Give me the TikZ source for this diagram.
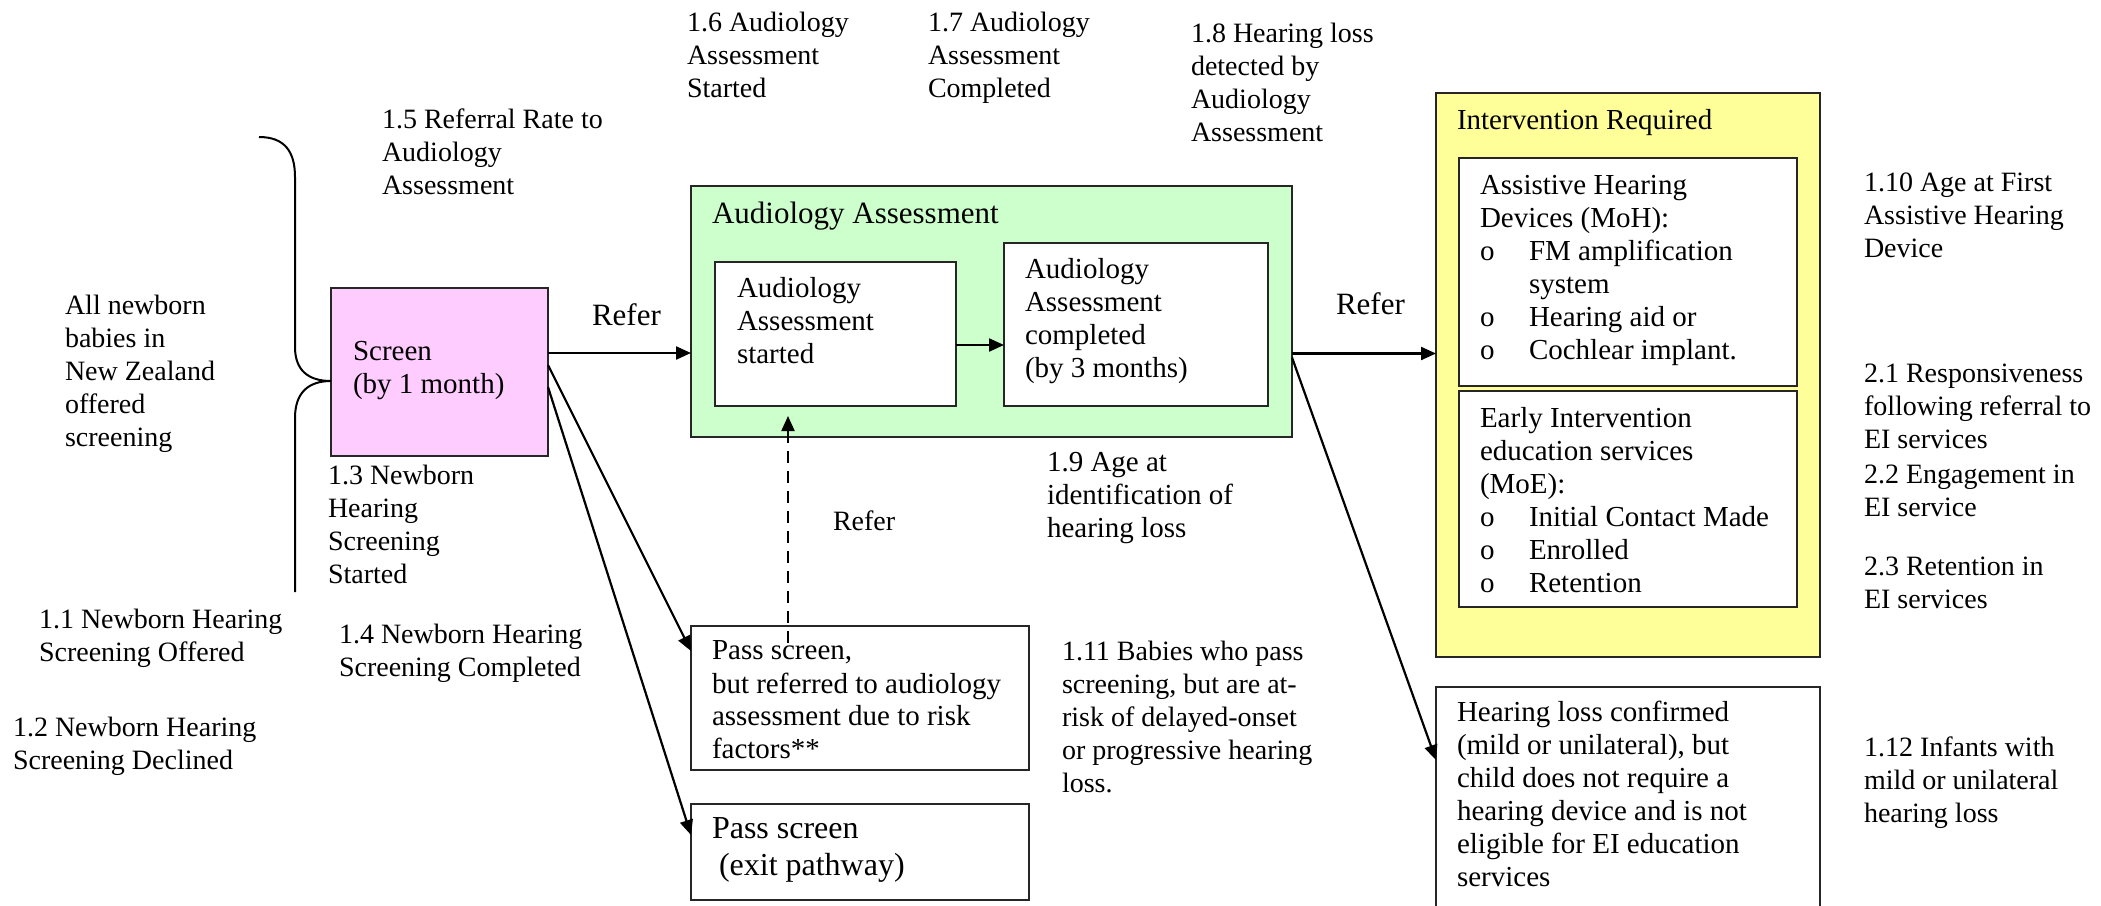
\documentclass[tikz,border=0pt]{standalone}
\usepackage{fontspec}
\setmainfont{Liberation Serif}
\usetikzlibrary{arrows.meta,calc}
\definecolor{pinkfill}{HTML}{FFCCFF}
\definecolor{greenfill}{HTML}{CCFFCC}
\definecolor{yellowfill}{HTML}{FFFF99}
\newcommand{\bul}{\makebox[49pt][l]{o}}
\begin{document}
\begin{tikzpicture}[x=1pt,y=-1pt,
  box/.style={draw=black!85, line width=2.2pt, inner sep=0pt, outer sep=0pt, anchor=north west},
  txt/.style={anchor=north west, inner sep=0pt, outer sep=0pt, align=left, font=\fontsize{28}{33}\selectfont},
  btxt/.style={txt, font=\fontsize{29}{33}\selectfont},
  bigtxt/.style={txt, font=\fontsize{31}{37}\selectfont},
  conn/.style={line width=2.2pt, -{Triangle[length=15pt,width=13pt]}},
  dashconn/.style={conn, dash pattern=on 12pt off 8pt}]
\useasboundingbox (0,0) rectangle (2101,905);

% boxes
\node[box, fill=pinkfill, minimum width=217pt, minimum height=168pt] (screen) at (331,288) {};
\node[box, fill=greenfill, minimum width=601pt, minimum height=251pt] (aud) at (691,186) {};
\node[box, fill=white, minimum width=241pt, minimum height=144pt] (started) at (715,262) {};
\node[box, fill=white, minimum width=264pt, minimum height=163pt] (completed) at (1004,243) {};
\node[box, fill=yellowfill, minimum width=384pt, minimum height=564pt] (interv) at (1436,93) {};
\node[box, fill=white, minimum width=338pt, minimum height=228pt] (ahd) at (1459,158) {};
\node[box, fill=white, minimum width=338pt, minimum height=216pt] (ei) at (1459,391) {};
\node[box, fill=white, minimum width=338pt, minimum height=144pt] (pass1) at (691,626) {};
\node[box, fill=white, minimum width=338pt, minimum height=96pt] (pass2) at (691,804) {};
\node[box, fill=white, minimum width=384pt, minimum height=240pt] (mild) at (1436,687) {};

% brace
\draw[line width=2pt] (259,137) .. controls (285,137) and (295,152) .. (295,177)
  -- (295,347) .. controls (295,370) and (308,381) .. (331,381)
  .. controls (308,381) and (295,393) .. (295,418) -- (295,592);

% texts
\node[txt] (tAll) at (65,295) {All newborn\\babies in\\New Zealand\\offered\\screening};
\node[btxt] (tScreen) at (353,341) {Screen\\(by 1 month)};
\node[txt] (t15) at (382,109) {1.5 Referral Rate to\\Audiology\\Assessment};
\node[bigtxt] (tRefer1) at (592,304) {Refer};
\node[txt] (t13) at (328,465) {1.3 Newborn\\Hearing\\Screening\\Started};
\node[txt] (t11) at (39,609) {1.1 Newborn Hearing\\Screening Offered};
\node[txt] (t14) at (339,624) {1.4 Newborn Hearing\\Screening Completed};
\node[txt] (t12) at (13,717) {1.2 Newborn Hearing\\Screening Declined};
\node[btxt] (tPass1) at (712,641) {Pass screen,\\but referred to audiology\\assessment due to risk\\factors**};
\node[bigtxt, font=\fontsize{32}{37}\selectfont] (tPass2) at (712,818) {Pass screen\\\hspace*{7pt}(exit pathway)};
\node[txt] (t111) at (1062,641) {1.11 Babies who pass\\screening, but are at-\\risk of delayed-onset\\or progressive hearing\\loss.};
\node[txt] (t16) at (687,12) {1.6 Audiology\\Assessment\\Started};
\node[txt] (t17) at (928,12) {1.7 Audiology\\Assessment\\Completed};
\node[txt] (t18) at (1191,23) {1.8 Hearing loss\\detected by\\Audiology\\Assessment};
\node[bigtxt] (tAud) at (712,202) {Audiology Assessment};
\node[btxt] (tStarted) at (737,277) {Audiology\\Assessment\\started};
\node[btxt] (tCompleted) at (1025,258) {Audiology\\Assessment\\completed\\(by 3 months)};
\node[txt] (tRefer2) at (833,511) {Refer};
\node[btxt] (t19) at (1047,452) {1.9 Age at\\identification of\\hearing loss};
\node[bigtxt] (tRefer3) at (1336,293) {Refer};
\node[btxt] (tInterv) at (1457,109) {Intervention Required};
\node[btxt] (tAhd) at (1480,175) {Assistive Hearing\\Devices (MoH):\\\bul FM amplification\\\hspace*{49pt}system\\\bul Hearing aid or\\\bul Cochlear implant.};
\node[btxt] (tEi) at (1480,407) {Early Intervention\\education services\\(MoE):\\\bul Initial Contact Made\\\bul Enrolled\\\bul Retention};
\node[txt] (t110) at (1864,173) {1.10 Age at First\\Assistive Hearing\\Device};
\node[txt] (t21) at (1864,364) {2.1 Responsiveness\\following referral to\\EI services};
\node[txt] (t22) at (1864,465) {2.2 Engagement in\\EI service};
\node[txt] (t23) at (1864,557) {2.3 Retention in\\EI services};
\node[btxt] (tMild) at (1457,701) {Hearing loss confirmed\\(mild or unilateral), but\\child does not require a\\hearing device and is not\\eligible for EI education\\services};
\node[txt] (t112) at (1864,737) {1.12 Infants with\\mild or unilateral\\hearing loss};

% connectors
\draw[conn] ([yshift=19pt]screen.east) -- ([yshift=19pt]screen.east -| aud.west);
\draw[conn] ([yshift=7pt]screen.east) -- ([yshift=47pt]pass1.west);
\draw[conn] ([yshift=-15pt]screen.east) -- ([yshift=17pt]pass2.west);
\draw[conn] ([yshift=-11pt]started.east) -- ([yshift=-11pt]started.east -| completed.west);
\coordinate (dashstart) at (788,643);
\draw[dashconn] (dashstart) -- ($(dashstart |- started.south)+(0,10)$);
\draw[conn] ([yshift=-42pt]aud.east) -- ([yshift=-42pt]aud.east -| interv.west);
\draw[conn] ([yshift=-46pt]aud.east) -- ([yshift=-73pt]mild.north west);
\end{tikzpicture}
\end{document}
